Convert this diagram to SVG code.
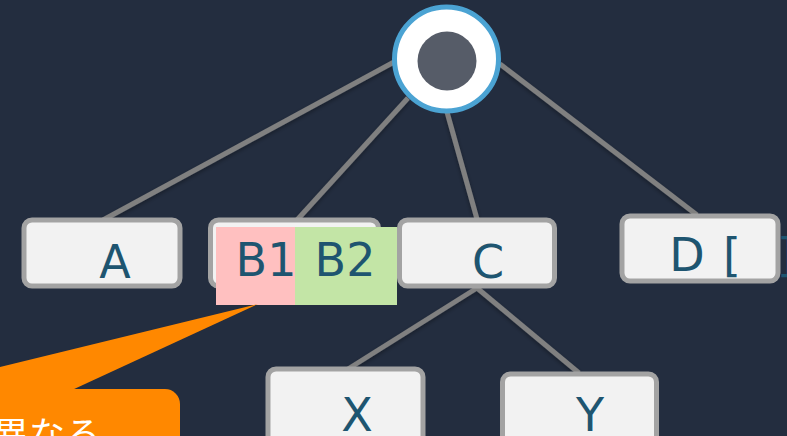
<svg xmlns="http://www.w3.org/2000/svg" width="787" height="436" viewBox="0 0 787 436">
  <style>
    .edge { stroke: #808080; stroke-width: 5; fill: none; stroke-linecap: butt; }
    .box { fill: #f2f2f2; stroke: #a3a3a3; stroke-width: 5; }
    .lbl { font-family: "DejaVu Sans", Verdana, sans-serif; font-size: 46px; fill: #1e5570; text-anchor: middle; }
    .note { font-family: "Noto Sans CJK JP", "Noto Sans", sans-serif; font-size: 36px; fill: #ffffff; }
  </style>
  <defs>
    <filter id="soft" x="-10%" y="-10%" width="120%" height="120%">
      <feDropShadow dx="0" dy="2" stdDeviation="2" flood-color="#000000" flood-opacity="0.35"/>
    </filter>
  </defs>

  <rect width="787" height="436" fill="#232d3f"/>

  <!-- tree connectors -->
  <g id="connectors" filter="url(#soft)">
    <line class="edge" x1="394" y1="62" x2="103" y2="220"/>
    <line class="edge" x1="408" y1="98" x2="297" y2="220"/>
    <line class="edge" x1="447" y1="112" x2="477" y2="219"/>
    <line class="edge" x1="500" y1="64" x2="697" y2="215"/>
    <line class="edge" x1="477" y1="288" x2="348" y2="369"/>
    <line class="edge" x1="477" y1="288" x2="579" y2="373"/>
  </g>

  <!-- root -->
  <g id="root">
    <circle cx="446.5" cy="59" r="52" fill="#ffffff" stroke="#4ba3d3" stroke-width="5"/>
    <circle cx="447" cy="61" r="29.5" fill="#565c68"/>
  </g>

  <g id="node-a">
    <rect class="box" x="24" y="220" width="156" height="66" rx="8"/>
    <text class="lbl" x="115" y="278">A</text>
  </g>

  <g id="node-b">
    <rect class="box" x="210.5" y="220" width="168" height="66" rx="8"/>
    <rect x="216" y="227" width="79" height="78" fill="#ffc0c0"/>
    <rect x="295" y="227" width="102" height="78" fill="#c3e5a6"/>
    <text class="lbl" x="266" y="276">B1</text>
    <text class="lbl" x="345" y="276">B2</text>
  </g>

  <g id="node-c">
    <rect class="box" x="399.5" y="220" width="155" height="66" rx="8"/>
    <text class="lbl" x="488" y="278">C</text>
  </g>

  <g id="node-d">
    <rect class="box" x="622" y="216" width="156" height="65" rx="8"/>
    <text class="lbl" x="687" y="271">D</text>
    <text class="lbl" x="732" y="271">[</text>
    <text class="lbl" x="786" y="271">]</text>
  </g>

  <g id="node-x">
    <rect class="box" x="268" y="369" width="155" height="80" rx="8"/>
    <text class="lbl" x="357" y="431">X</text>
  </g>

  <g id="node-y">
    <rect class="box" x="502.5" y="374" width="154" height="80" rx="8"/>
    <text class="lbl" x="590" y="431">Y</text>
  </g>

  <!-- callout -->
  <g id="callout">
    <polygon points="258,304 -20,372 -20,400 72,390" fill="#ff8800"/>
    <rect x="-30" y="389" width="210" height="80" rx="15" fill="#ff8800"/>
    <text class="note" x="-7" y="448">異なる</text>
  </g>
</svg>
